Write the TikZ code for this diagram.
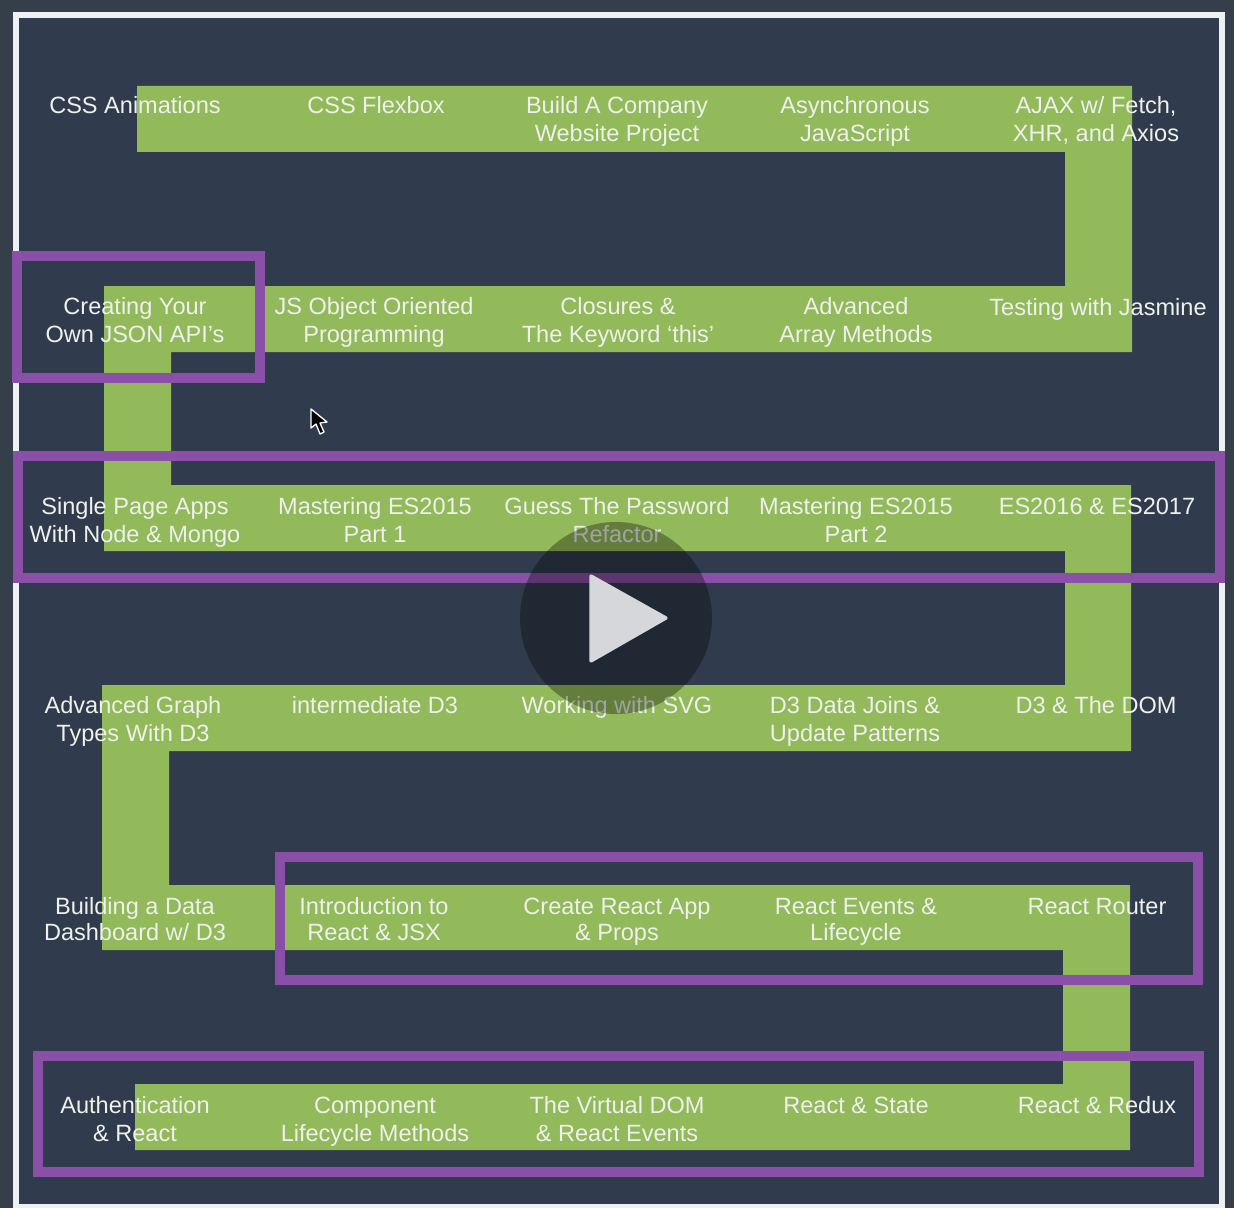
\documentclass[tikz,border=0pt]{standalone}
\usepackage{fontspec}
\setmainfont{Liberation Sans}
\usepackage{xcolor}
\usepackage{tikz}
\definecolor{pagebg}{HTML}{353F4A}
\definecolor{slidebg}{HTML}{303C4D}
\definecolor{framewhite}{HTML}{EEF1F4}
\definecolor{snakegreen}{HTML}{92B95A}
\definecolor{hilite}{HTML}{8A50A8}
\definecolor{labelwhite}{HTML}{EEF1EC}
\definecolor{playgrey}{HTML}{D6D7DB}

\begin{document}
\begin{tikzpicture}[
    x=0.03cm, y=-0.03cm,
    lesson/.style={align=center, inner sep=0pt, text=labelwhite, anchor=base,
                   font=\fontsize{20.1}{23.9}\selectfont},
    snake/.style={fill=snakegreen},
    slide/.style={draw=framewhite, fill=slidebg, line width=0.18cm},
    box/.style={draw=hilite, line width=0.3cm},
  ]
    \useasboundingbox (0,0) rectangle (1234,1208);
    \fill[pagebg] (0,0) rectangle (1234,1208);
    \draw[slide] (16,15) rectangle (1222,1207);

    % the path through the lessons
    \fill[snake] (137,86) -- (1132,86) -- (1132,352) -- (171,352) -- (171,485)
      -- (1131,485) -- (1131,751) -- (169,751) -- (169,885) -- (1130,885)
      -- (1130,1150) -- (135,1150) -- (135,1084) -- (1063,1084) -- (1063,950)
      -- (102,950) -- (102,685) -- (1065,685) -- (1065,551) -- (104,551)
      -- (104,286) -- (1065,286) -- (1065,152) -- (137,152) -- cycle;

    \draw[box] (17,256) rectangle (260,378);
    \draw[box] (18,455.5) rectangle (1220,577.5);
    \draw[box] (280,857) rectangle (1198,980);
    \draw[box] (38,1056) rectangle (1199,1172);

    \node[lesson] (animations) at (135,114) {CSS Animations};
    \node[lesson] (flexbox) at (376,114) {CSS Flexbox};
    \node[lesson] (company) at (617,142) {Build A Company\\Website Project};
    \node[lesson] (async) at (855,142) {Asynchronous\\JavaScript};
    \node[lesson] (ajax) at (1096,142) {AJAX w/ Fetch,\\XHR, and Axios};

    \node[lesson] (jsonapi) at (135,342) {Creating Your\\[-0.85pt]Own JSON API’s};
    \node[lesson] (oop) at (374,342) {JS Object Oriented\\[-0.85pt]Programming};
    \node[lesson] (closures) at (618,342) {Closures \&\\[-0.85pt]The Keyword ‘this’};
    \node[lesson] (arrays) at (856,342) {Advanced\\[-0.85pt]Array Methods};
    \node[lesson] (jasmine) at (1098,315) {Testing with Jasmine};

    \node[lesson] (spa) at (135,542) {Single Page Apps\\With Node \& Mongo};
    \node[lesson] (esone) at (375,542) {Mastering ES2015\\Part 1};
    \node[lesson] (password) at (617,542) {Guess The Password\\Refactor};
    \node[lesson] (estwo) at (856,542) {Mastering ES2015\\Part 2};
    \node[lesson] (esnext) at (1097,514) {ES2016 \& ES2017};

    \node[lesson] (graphs) at (133,741) {Advanced Graph\\Types With D3};
    \node[lesson] (interd) at (375,713) {intermediate D3};
    \node[lesson] (svg) at (617,713) {Working with SVG};
    \node[lesson] (joins) at (855,741) {D3 Data Joins \&\\Update Patterns};
    \node[lesson] (dom) at (1096,713) {D3 \& The DOM};

    \node[lesson] (dashboard) at (135,940) {Building a Data\\[-1.7pt]Dashboard w/ D3};
    \node[lesson] (jsx) at (374,940) {Introduction to\\[-1.7pt]React \& JSX};
    \node[lesson] (props) at (617,940) {Create React App\\[-1.7pt]\& Props};
    \node[lesson] (events) at (856,940) {React Events \&\\[-1.7pt]Lifecycle};
    \node[lesson] (router) at (1097,914) {React Router};

    \node[lesson] (auth) at (135,1141) {Authentication\\\& React};
    \node[lesson] (methods) at (375,1141) {Component\\Lifecycle Methods};
    \node[lesson] (virtual) at (617,1141) {The Virtual DOM\\\& React Events};
    \node[lesson] (state) at (856,1113) {React \& State};
    \node[lesson] (redux) at (1097,1113) {React \& Redux};

    % video player overlay
    \fill[black, opacity=0.32] (616,618) circle [radius=96];
    \fill[playgrey, draw=playgrey, line width=0.1cm, line join=round]
      (591,576) -- (666,618) -- (591,661) -- cycle;
    \draw[white, fill=black, line width=0.04cm, line join=round]
      (311,409) -- (311,428) -- (316,424) -- (320,434) -- (324,432) -- (320,423) -- (327,422) -- cycle;
  \end{tikzpicture}
\end{document}
